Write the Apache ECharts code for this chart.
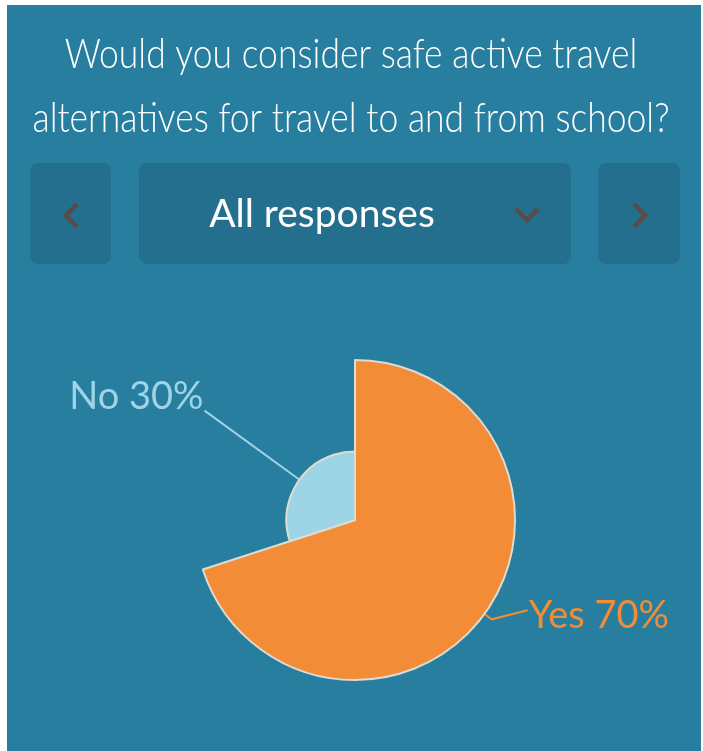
<!DOCTYPE html>
<html>
<head>
<meta charset="utf-8">
<script src="https://cdn.jsdelivr.net/npm/echarts@6/dist/echarts.min.js"></script>
<style>
  html, body { margin: 0; padding: 0; background: #ffffff; }
  #chart { width: 703px; height: 751px; }
</style>
</head>
<body>
<div id="chart"></div>
<script>
// Survey answers
const categories = ['Yes', 'No'];
const values = [70, 30];
const sliceColors = ['#f28c36', '#9dd4e6'];

const titleText = 'Would you consider safe active travel\nalternatives for travel to and from school?';
const filterText = 'All responses';

const panel = '#287e9f';
const buttonFill = '#246f8d';
const chevron = '#5b4b44';

const chart = echarts.init(document.getElementById('chart'), null, { renderer: 'canvas' });

const pieData = categories.map((name, i) => ({
  name,
  value: values[i],
  itemStyle: { color: sliceColors[i] },
  label: { color: sliceColors[i] },
  labelLine: i === 0
    ? { length: 9, length2: 36, lineStyle: { color: sliceColors[i], width: 2 } }
    : { length: 26, length2: 0, lineStyle: { color: sliceColors[i], width: 2 } }
}));

chart.setOption({
  backgroundColor: '#ffffff',
  animation: false,
  graphic: [
    { type: 'rect', z: -10, shape: { x: 7, y: 5, width: 694, height: 746 }, style: { fill: panel } },
    {
      type: 'text', x: 351, y: 22, z: 5, scaleX: 0.845, originX: 0,
      style: {
        text: titleText, fill: '#ffffff', align: 'center',
        font: '300 42px Lato', lineHeight: 64
      }
    },
    { type: 'rect', shape: { x: 30, y: 163, width: 81, height: 101, r: 8 }, style: { fill: buttonFill } },
    { type: 'rect', shape: { x: 139, y: 163, width: 432, height: 101, r: 8 }, style: { fill: buttonFill } },
    { type: 'rect', shape: { x: 598, y: 163, width: 82, height: 101, r: 8 }, style: { fill: buttonFill } },
    { type: 'polyline', shape: { points: [[77, 204], [66, 215.5], [77, 227]] }, style: { stroke: chevron, lineWidth: 4.5, fill: null } },
    { type: 'polyline', shape: { points: [[634, 204], [645, 215.5], [634, 227]] }, style: { stroke: chevron, lineWidth: 4.5, fill: null } },
    { type: 'polyline', shape: { points: [[516, 209], [527, 220], [538, 209]] }, style: { stroke: chevron, lineWidth: 4.5, fill: null } },
    {
      type: 'text', x: 322, y: 214, z: 5,
      style: {
        text: filterText, fill: '#ffffff', align: 'center', verticalAlign: 'middle',
        font: '400 39px Lato'
      }
    }
  ],
  series: [{
    type: 'pie',
    roseType: 'radius',
    center: [355, 520],
    radius: [0, 160],
    startAngle: 90,
    clockwise: true,
    avoidLabelOverlap: false,
    itemStyle: { borderColor: '#dcdcd4', borderWidth: 2 },
    label: {
      formatter: '{b} {d}%',
      fontFamily: 'Lato',
      fontSize: 38,
      distanceToLabelLine: 1
    },
    labelLine: { lineStyle: { width: 2 } },
    // lift the labels above the leader-line ends; the "Yes" line rises to its label
    labelLayout: function (params) {
      const p = params.labelLinePoints;
      if (!p) return {};
      const end = p[p.length - 1];
      if (params.dataIndex === 0) {
        return { y: end[1] - 4, labelLinePoints: [p[0], p[1], [end[0], end[1] - 9]] };
      }
      return { y: end[1] - 14, labelLinePoints: p };
    },
    emphasis: { disabled: true },
    data: pieData
  }]
});
</script>
</body>
</html>
